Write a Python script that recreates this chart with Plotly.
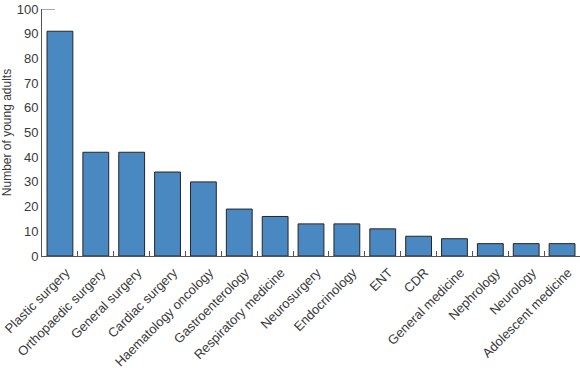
import plotly.graph_objects as go

categories = ["Plastic surgery", "Orthopaedic surgery", "General surgery", "Cardiac surgery",
              "Haematology oncology", "Gastroenterology", "Respiratory medicine", "Neurosurgery",
              "Endocrinology", "ENT", "CDR", "General medicine", "Nephrology", "Neurology",
              "Adolescent medicine"]
values = [91, 42, 42, 34, 30, 19, 16, 13, 13, 11, 8, 7, 5, 5, 5]
y_ticks = [0, 10, 20, 30, 40, 50, 60, 70, 80, 90, 100]

fig = go.Figure(go.Bar(
    x=categories, y=values, width=0.72,
    marker=dict(color="#4a88c1", line=dict(color="#262626", width=1)),
))

font = dict(family="Liberation Sans, Arial, sans-serif", size=11, color="#3a3a3a")
fig.update_layout(
    width=580, height=368,
    margin=dict(l=42, r=0, t=9, b=112),
    paper_bgcolor="white", plot_bgcolor="white",
    font=font, showlegend=False,
    xaxis=dict(range=[-0.5, 14.5], tickangle=-45, showline=True, linecolor="#555555", linewidth=1,
               ticks="inside", ticklen=5, tickcolor="#555555", tickson="boundaries",
               ticklabelshift=6, ticklabelstandoff=3,
               showgrid=False, automargin=False, tickfont=dict(size=13, color="#3a3a3a")),
    yaxis=dict(range=[0, 100], tickvals=y_ticks, showline=True, linecolor="#555555", linewidth=1,
               ticks="", showgrid=False, zeroline=False, automargin=False,
               title=dict(text="Number of young adults", standoff=12, font=dict(size=12)),
               tickfont=dict(size=13, color="#3a3a3a")),
)
fig.add_shape(type="line", xref="paper", yref="y", x0=0, x1=0.024, y0=100, y1=100,
              line=dict(color="#555555", width=1))
fig.write_html("out.html", config={"displayModeBar": False},
               post_script="document.body.style.margin='0';")
